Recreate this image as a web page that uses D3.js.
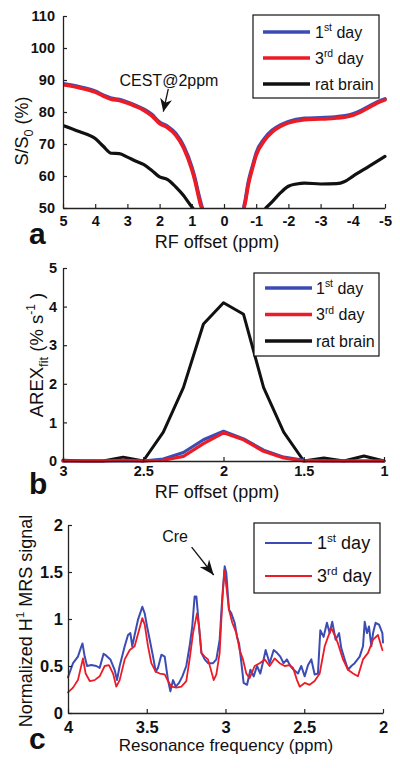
<!DOCTYPE html>
<html><head><meta charset="utf-8">
<script src="https://cdn.jsdelivr.net/npm/d3@7"></script>
<style>
body{margin:0;background:#fff}
svg{display:block;background:#fff}
text{font-family:"Liberation Sans",Arial,sans-serif;fill:#111}
</style>
</head><body><svg id="chart" width="400" height="768"></svg>
<script>
// ---------- Panel a: Z-spectra ----------
const offsetsDayA = [5,4.5,4,3.75,3.5,3.25,3,2.75,2.5,2.25,2,1.75,1.5,1.25,1,0.9,0.8,0.7,0.68,0,-0.62,-0.65,-0.75,-0.9,-1,-1.25,-1.5,-1.75,-2,-2.5,-3,-3.5,-4,-4.25,-4.5,-4.75,-5];
const day1A = [88.8,87.9,86.5,85.3,84.3,83.9,83.1,82.1,80.9,79.3,76.8,75.5,73.3,69.3,62.8,59.2,54.8,50.9,50.2,null,50.5,51.8,57.8,63.6,67.2,71.6,74.3,75.9,77.0,78.0,78.2,78.5,79.4,80.4,81.8,83.1,84.1];
const day3A = [88.5,87.6,86.2,85.0,84.0,83.6,82.8,81.8,80.6,78.9,76.4,75.1,72.8,68.7,62.0,58.4,54.0,50.2,50.0,null,50.0,51.2,57.0,63.0,66.5,71.0,73.8,75.5,76.6,77.6,77.8,78.1,79.0,80.0,81.4,82.8,83.8];
const offsetsBrainA = [5,4.5,4,3.75,3.5,3.25,3,2.75,2.5,2.25,2,1.75,1.5,1.25,1.05,0.97,0,-1.3,-1.5,-1.75,-2,-2.25,-2.5,-3,-3.5,-3.75,-4,-4.5,-5];
const brainA = [75.8,73.9,71.7,69.3,67.1,67.0,65.9,64.7,63.6,61.8,59.7,58.9,56.6,53.8,51.0,50.0,null,50.0,52.0,54.7,56.8,57.5,57.8,57.5,57.6,58.3,59.9,63.0,66.1];
const ticksAx = [5,4,3,2,1,0,-1,-2,-3,-4,-5];
const ticksAy = [50,60,70,80,90,100,110];

// ---------- Panel b: AREX ----------
const offsetsB = [3,2.875,2.75,2.625,2.5,2.375,2.25,2.125,2,1.875,1.75,1.625,1.5,1.375,1.25,1.125,1];
const day1B  = [0,0,0,0,0,0.05,0.22,0.55,0.77,0.57,0.28,0.10,0.02,0,0,0,0];
const day3B  = [0,0,0,0.02,0,0.02,0.12,0.45,0.73,0.55,0.25,0.08,0,0,0,0,0];
const brainB = [0.02,0,0,0.1,0,0.75,1.9,3.55,4.1,3.8,1.9,0.75,0,0.08,0,0.13,0];
const ticksBx = [3,2.5,2,1.5,1];
const ticksBy = [0,1,2,3,4,5];

// ---------- Panel c: MRS ----------
const freqDay1C = [4.000,3.968,3.937,3.915,3.908,3.894,3.879,3.852,3.820,3.799,3.774,3.757,3.731,3.704,3.689,3.672,3.640,3.619,3.604,3.592,3.577,3.556,3.534,3.528,3.513,3.498,3.481,3.460,3.443,3.429,3.407,3.386,3.365,3.350,3.333,3.316,3.295,3.274,3.249,3.228,3.211,3.196,3.185,3.168,3.153,3.132,3.111,3.079,3.058,3.037,3.020,3.005,2.995,2.978,2.963,2.942,2.927,2.914,2.899,2.885,2.863,2.842,2.821,2.800,2.779,2.758,2.745,2.720,2.694,2.673,2.652,2.631,2.610,2.588,2.567,2.540,2.519,2.497,2.476,2.455,2.434,2.413,2.398,2.377,2.356,2.339,2.322,2.301,2.279,2.265,2.243,2.222,2.201,2.180,2.148,2.127,2.116,2.102,2.089,2.074,2.063,2.047,2.025,2.004,2.000];
const day1C = [0.38,0.53,0.60,0.71,0.74,0.60,0.50,0.51,0.50,0.48,0.63,0.61,0.57,0.46,0.35,0.50,0.71,0.83,0.85,0.71,0.83,0.99,1.10,1.13,1.06,0.92,0.78,0.60,0.44,0.48,0.62,0.60,0.35,0.23,0.35,0.28,0.32,0.39,0.50,0.71,0.92,1.24,1.24,0.92,0.64,0.57,0.53,0.53,0.57,0.78,1.24,1.56,1.49,1.10,1.06,0.96,0.81,0.74,0.53,0.32,0.30,0.46,0.39,0.50,0.42,0.57,0.67,0.53,0.67,0.64,0.60,0.53,0.57,0.50,0.46,0.42,0.50,0.39,0.51,0.57,0.41,0.42,0.88,0.81,0.96,0.85,0.97,0.78,0.85,0.69,0.57,0.46,0.50,0.53,0.60,0.71,0.97,0.85,0.92,0.71,0.85,0.96,0.94,0.85,0.75];
const freqDay3C = [4.000,3.968,3.937,3.905,3.888,3.862,3.831,3.799,3.767,3.740,3.714,3.693,3.672,3.640,3.608,3.577,3.549,3.528,3.513,3.492,3.471,3.443,3.418,3.386,3.365,3.344,3.312,3.280,3.249,3.228,3.206,3.181,3.168,3.153,3.132,3.111,3.096,3.075,3.058,3.037,3.020,3.007,2.995,2.978,2.957,2.931,2.910,2.889,2.868,2.847,2.815,2.783,2.751,2.720,2.688,2.656,2.624,2.593,2.571,2.546,2.529,2.497,2.466,2.434,2.402,2.370,2.349,2.328,2.307,2.286,2.254,2.222,2.190,2.159,2.127,2.095,2.063,2.032,2.004];
const day3C = [0.22,0.27,0.35,0.58,0.42,0.34,0.35,0.39,0.50,0.51,0.42,0.28,0.35,0.57,0.67,0.71,0.88,1.01,0.94,0.71,0.53,0.44,0.42,0.41,0.34,0.28,0.27,0.28,0.34,0.57,0.85,1.06,0.92,0.64,0.60,0.57,0.48,0.35,0.41,0.64,1.20,1.52,1.35,1.10,0.96,0.85,0.67,0.57,0.42,0.37,0.50,0.53,0.57,0.50,0.58,0.53,0.50,0.51,0.48,0.35,0.28,0.32,0.30,0.34,0.42,0.71,0.81,0.90,0.83,0.74,0.57,0.46,0.42,0.39,0.57,0.64,0.78,0.83,0.67];
const ticksCx = [4,3.5,3,2.5,2];
const ticksCy = [0,0.5,1,1.5,2];

const COL = {day1:"#3b4db4", day3:"#ec1c26", brain:"#111111"};
const legendAB = [
  {parts:[{t:"1"},{t:"st",sup:1},{t:" day"}], color:COL.day1},
  {parts:[{t:"3"},{t:"rd",sup:1},{t:" day"}], color:COL.day3},
  {parts:[{t:"rat brain"}], color:COL.brain}];
const legendC = legendAB.slice(0,2);

const svg = d3.select("#chart");

function rich(sel, parts, fs){
  let shift = 0;
  parts.forEach(p=>{
    const ts = sel.append("tspan").text(p.t);
    let target = 0;
    if(p.sup){ ts.attr("font-size", fs*0.65); target = -fs*0.42; }
    else if(p.sub){ ts.attr("font-size", fs*0.7); target = fs*0.28; }
    if(target!==shift){ ts.attr("dy", target-shift); shift = target; }
  });
}

function axes(x, y, xt, yt, fs, padX, padY){
  const gx = svg.append("g").attr("transform",`translate(0,${y.range()[0]})`)
    .call(d3.axisBottom(x).tickValues(xt).tickSizeInner(-4).tickSizeOuter(0).tickPadding(padX).tickFormat(d=>String(d)));
  const gy = svg.append("g").attr("transform",`translate(${x.range()[0]},0)`)
    .call(d3.axisLeft(y).tickValues(yt).tickSizeInner(-4).tickSizeOuter(0).tickPadding(padY).tickFormat(d=>String(d)));
  [gx,gy].forEach(g=>{
    g.select(".domain").attr("stroke","#222").attr("stroke-width",1.3);
    g.selectAll(".tick line").attr("stroke","#222").attr("stroke-width",1.2);
    g.selectAll(".tick text").attr("font-family","Liberation Sans, Arial, sans-serif")
      .attr("font-size",fs).attr("font-weight","bold").attr("fill","#111");
  });
}

function series(x, y, xs, ys, color, w, curve, clipId){
  const pts = xs.map((d,i)=>[d, ys[i]]);
  svg.append("path").datum(pts)
    .attr("clip-path", clipId?`url(#${clipId})`:null)
    .attr("fill","none").attr("stroke",color).attr("stroke-width",w)
    .attr("stroke-linejoin","round").attr("stroke-linecap","round")
    .attr("d", d3.line().defined(d=>d[1]!==null).x(d=>x(d[0])).y(d=>y(d[1])).curve(curve)(pts));
}

function legend(box, items, fs, lw, rowY0, rowStep, lineX0, lineX1, textX){
  svg.append("rect").attr("x",box[0]).attr("y",box[1]).attr("width",box[2]).attr("height",box[3])
    .attr("fill","#fff").attr("stroke","#111").attr("stroke-width",1.2);
  items.forEach((it,i)=>{
    const yy = rowY0 + i*rowStep;
    svg.append("line").attr("x1",lineX0).attr("x2",lineX1).attr("y1",yy).attr("y2",yy)
      .attr("stroke",it.color).attr("stroke-width",lw);
    const t = svg.append("text").attr("x",textX).attr("y",yy+fs*0.36).attr("font-size",fs);
    rich(t, it.parts, fs);
  });
}

function ylabel(x, y, parts, fs){
  const t = svg.append("text").attr("transform",`translate(${x},${y}) rotate(-90)`)
    .attr("text-anchor","middle").attr("font-size",fs);
  rich(t, parts, fs);
}
function xlabel(x, y, txt, fs){
  svg.append("text").attr("x",x).attr("y",y).attr("text-anchor","middle").attr("font-size",fs).text(txt);
}
function letter(x, y, txt){
  svg.append("text").attr("x",x).attr("y",y).attr("font-family","Liberation Serif, Times New Roman, serif")
    .attr("font-weight","bold").attr("font-size",30).text(txt);
}
function arrow(x0,y0,x1,y1,len,wid){
  svg.append("line").attr("x1",x0).attr("y1",y0).attr("x2",x1).attr("y2",y1)
    .attr("stroke","#111").attr("stroke-width",1.3);
  const a = Math.atan2(y1-y0, x1-x0), c=Math.cos(a), s=Math.sin(a);
  const bx = x1 - len*c, by = y1 - len*s;
  const nx = x1 - len*0.7*c, ny = y1 - len*0.7*s;
  const p = [[x1,y1],[bx - wid/2*s, by + wid/2*c],[nx,ny],[bx + wid/2*s, by - wid/2*c]];
  svg.append("path").attr("d","M"+p.map(q=>q.join(",")).join("L")+"Z").attr("fill","#111");
}

const defs = svg.append("defs");

// ===== Panel a =====
{
  const x = d3.scaleLinear().domain([5,-5]).range([63,385]);
  const y = d3.scaleLinear().domain([50,110]).range([208,16]);
  defs.append("clipPath").attr("id","clipA").append("rect").attr("x",63).attr("y",10).attr("width",330).attr("height",198);
  series(x,y,offsetsBrainA,brainA,COL.brain,3.2,d3.curveMonotoneX,"clipA");
  series(x,y,offsetsDayA,day1A,COL.day1,3.6,d3.curveMonotoneX,"clipA");
  series(x,y,offsetsDayA,day3A,COL.day3,3.6,d3.curveMonotoneX,"clipA");
  axes(x,y,ticksAx,ticksAy,14.5,8,8);
  legend([253,15,126,83], legendAB, 16, 3.5, 32, 26, 263, 310, 315);
  ylabel(28, 131, [{t:"S/S"},{t:"0",sub:1},{t:" (%)"}], 18);
  xlabel(217, 248, "RF offset (ppm)", 18);
  letter(29, 244, "a");
  svg.append("text").attr("x",x(1.71)).attr("y",y(88.1)).attr("text-anchor","middle").attr("font-size",16).text("CEST@2ppm");
  arrow(x(1.73),y(87.2),x(1.885),y(80.1),13,12);
}
// ===== Panel b =====
{
  const x = d3.scaleLinear().domain([3,1]).range([63,384]);
  const y = d3.scaleLinear().domain([0,5]).range([461,268]);
  series(x,y,offsetsB,brainB,COL.brain,3,d3.curveLinear);
  series(x,y,offsetsB,day1B,COL.day1,3.2,d3.curveLinear);
  series(x,y,offsetsB,day3B,COL.day3,3.2,d3.curveLinear);
  axes(x,y,ticksBx,ticksBy,14.5,5,6);
  legend([254,273,125,83], legendAB, 16, 3.5, 288, 26.5, 265, 312, 316);
  ylabel(43, 355, [{t:"AREX"},{t:"fit",sub:1},{t:" (% s"},{t:"-1",sup:1},{t:" )"}], 18.5);
  xlabel(217, 498, "RF offset (ppm)", 18);
  letter(29, 494, "b");
}
// ===== Panel c =====
{
  const x = d3.scaleLinear().domain([4,2]).range([68,383]);
  const y = d3.scaleLinear().domain([0,2]).range([713,525]);
  series(x,y,freqDay1C,day1C,COL.day1,2,d3.curveLinear);
  series(x,y,freqDay3C,day3C,COL.day3,1.8,d3.curveLinear);
  axes(x,y,ticksCx,ticksCy,16.5,8,5);
  legend([254,523,126,70], legendC, 18, 1.8, 543, 33, 265, 312, 317);
  ylabel(32, 621, [{t:"Normalized H"},{t:"1",sup:1},{t:" MRS signal"}], 18);
  xlabel(226, 751, "Resonance frequency (ppm)", 17);
  letter(29, 749, "c");
  svg.append("text").attr("x",x(3.32)).attr("y",y(1.822)).attr("text-anchor","middle").attr("font-size",16).text("Cre");
  arrow(x(3.215),y(1.765),x(3.075),y(1.468),15,12);
}
</script>
</body></html>
